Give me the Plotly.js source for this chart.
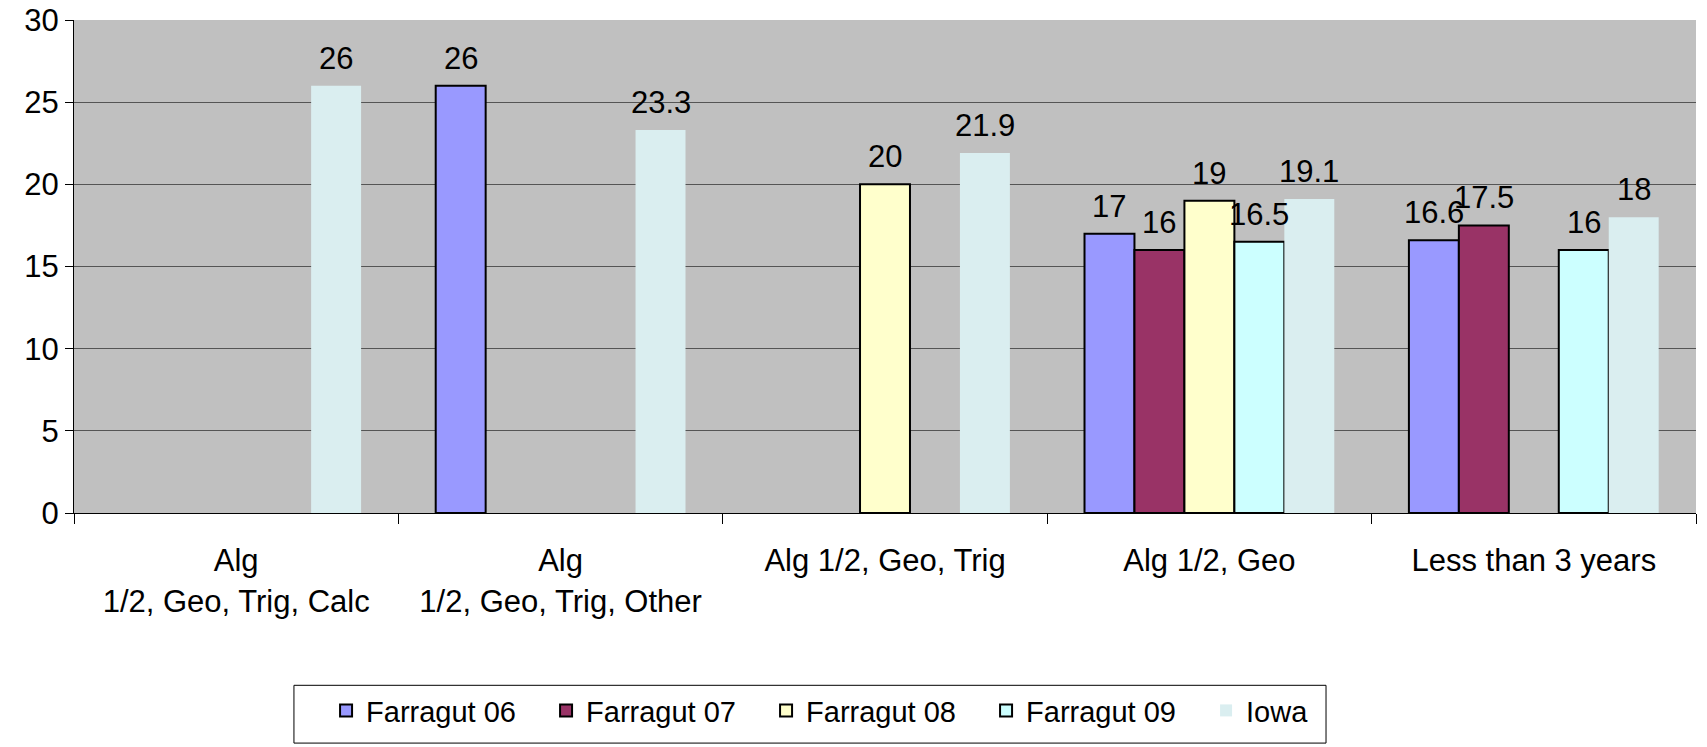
<!DOCTYPE html>
<html>
<head>
<meta charset="utf-8">
<script src="https://cdn.plot.ly/plotly-3.0.1.min.js"></script>
<style>html,body{margin:0;padding:0;background:#fff;}#chart{width:1707px;height:747px;}</style>
</head>
<body>
<div id="chart"></div>
<script>
const categories = ["Alg<br>1/2, Geo, Trig, Calc", "Alg<br>1/2, Geo, Trig, Other", "Alg 1/2, Geo, Trig", "Alg 1/2, Geo", "Less than 3 years"];
const seriesNames = ["Farragut 06", "Farragut 07", "Farragut 08", "Farragut 09", "Iowa"];
const farragut06 = [null, 26, null, 17, 16.6];
const farragut07 = [null, null, null, 16, 17.5];
const farragut08 = [null, null, 20, 19, null];
const farragut09 = [null, null, null, 16.5, 16];
const iowa = [26, 23.3, 21.9, 19.1, 18];
const yTicks = [0, 5, 10, 15, 20, 25, 30];

const colors = ["#9999FF", "#993366", "#FFFFCC", "#CCFFFF", "#DAEEF0"];
const lineWidths = [2, 2, 2, 2, 0];
const allValues = [farragut06, farragut07, farragut08, farragut09, iowa];
const font = "Liberation Sans, Arial, sans-serif";

const W = 1707, H = 747;
const margin = {l: 74, r: 11, t: 20, b: 232};
const bargap = 0.23;
const plotW = W - margin.l - margin.r;
const barPx = plotW / categories.length * (1 - bargap) / allValues.length;

const traces = allValues.map((vals, i) => ({
  type: "bar",
  name: seriesNames[i],
  x: categories,
  y: vals,
  marker: {color: colors[i], line: {color: "#000", width: lineWidths[i]}}
}));

const annotations = [];
allValues.forEach((vals, i) => {
  vals.forEach((v, j) => {
    if (v === null) return;
    annotations.push({
      x: categories[j], y: v, xref: "x", yref: "y",
      text: String(v), showarrow: false,
      xanchor: "center", yanchor: "bottom",
      xshift: (i - (allValues.length - 1) / 2) * barPx,
      yshift: 8,
      font: {family: font, size: 31, color: "#000"}
    });
  });
});

const layout = {
  width: W, height: H,
  margin: margin,
  paper_bgcolor: "#fff",
  plot_bgcolor: "#C0C0C0",
  barmode: "group",
  bargap: bargap,
  bargroupgap: 0,
  font: {family: font, size: 31, color: "#000"},
  showlegend: true,
  legend: {
    orientation: "h",
    x: 0.1554, xanchor: "left",
    y: -0.349, yanchor: "top",
    borderwidth: 0,
    bgcolor: "rgba(0,0,0,0)",
    font: {family: font, size: 29, color: "#000"},
    itemwidth: 30,
    entrywidth: 175,
    traceorder: "normal"
  },
  shapes: [{
    type: "rect", xref: "paper", yref: "paper",
    x0: 0.1356, x1: 0.7719, y0: -0.4667, y1: -0.3495,
    line: {color: "#000", width: 1}, fillcolor: "rgba(0,0,0,0)", layer: "below"
  }],
  annotations: annotations,
  xaxis: {
    type: "category",
    showline: true, linecolor: "#000", linewidth: 1,
    ticks: "outside", ticklen: 10, tickcolor: "#000",
    tickson: "boundaries",
    ticklabelstandoff: 20,
    showgrid: false,
    tickfont: {family: font, size: 31, color: "#000"},
    fixedrange: true
  },
  yaxis: {
    range: [0, 30],
    tickvals: yTicks,
    ticktext: yTicks.map(String),
    showline: true, linecolor: "#000", linewidth: 1,
    ticks: "outside", ticklen: 8, tickcolor: "#000",
    showgrid: true, gridcolor: "#555", gridwidth: 1,
    zeroline: false,
    tickfont: {family: font, size: 31, color: "#000"},
    fixedrange: true
  }
};

Plotly.newPlot("chart", traces, layout, {displayModeBar: false, staticPlot: true});
</script>
</body>
</html>
